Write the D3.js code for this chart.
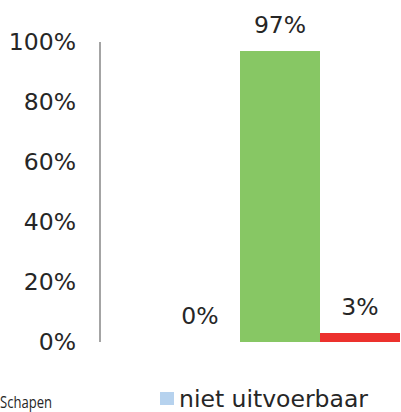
<!DOCTYPE html>
<html>
<head>
<meta charset="utf-8">
<script src="https://cdn.jsdelivr.net/npm/d3@7"></script>
<style>
  body { margin: 0; background: #fff; }
  svg { display: block; }
  text { font-family: "DejaVu Sans", Verdana, sans-serif; fill: #262626; }
</style>
</head>
<body>
<div id="chart"></div>
<script>
// Waarden
const series = ['niet uitvoerbaar', 'uitvoerbaar', 'anders'];
const values = [0, 97, 3];
const colors = ['#b6d2ee', '#87c764', '#ec312d'];
const yTicks = [0, 20, 40, 60, 80, 100];
const legendItems = ['niet uitvoerbaar'];
const groupLabel = 'Schapen';

const W = 401, H = 412;
const svg = d3.select('#chart').append('svg')
  .attr('width', W).attr('height', H);

const y = d3.scaleLinear().domain([0, 100]).range([342, 42]);
const x = d3.scaleBand().domain(series).range([160, 400]).padding(0);

// Y-as labels
svg.append('g')
  .selectAll('text')
  .data(yTicks)
  .enter().append('text')
  .attr('x', 76)
  .attr('y', d => y(d))
  .attr('dy', '0.36em')
  .attr('text-anchor', 'end')
  .style('font-size', '23.5px')
  .text(d => d + '%');

// Aslijn
svg.append('line')
  .attr('x1', 100).attr('x2', 100)
  .attr('y1', y(100)).attr('y2', y(0))
  .attr('stroke', '#868686')
  .attr('stroke-width', 1.5);

// Staven
svg.selectAll('.bar')
  .data(values)
  .enter().append('rect')
  .attr('class', 'bar')
  .attr('x', (d, i) => x(series[i]))
  .attr('width', x.bandwidth())
  .attr('y', d => y(d))
  .attr('height', d => y(0) - y(d))
  .attr('fill', (d, i) => colors[i]);

// Waardelabels
svg.selectAll('.val')
  .data(values)
  .enter().append('text')
  .attr('class', 'val')
  .attr('x', (d, i) => x(series[i]) + x.bandwidth() / 2)
  .attr('y', d => y(d) - 18)
  .attr('text-anchor', 'middle')
  .style('font-size', '23.5px')
  .text(d => d + '%');

// Legenda
const leg = svg.append('g').attr('transform', 'translate(160,392)');
legendItems.forEach((name, i) => {
  leg.append('rect')
    .attr('x', 0).attr('y', 0)
    .attr('width', 14).attr('height', 13)
    .attr('fill', colors[series.indexOf(name)]);
  leg.append('text')
    .attr('x', 19).attr('y', 15)
    .style('font-size', '23.5px')
    .text(name);
});

// Categorie-label (onderaan links)
svg.append('text')
  .attr('x', 0).attr('y', 408)
  .attr('textLength', 52)
  .attr('lengthAdjust', 'spacingAndGlyphs')
  .style('font-family', '"Liberation Sans Narrow", "Open Sans", sans-serif')
  .style('font-size', '16px')
  .text(groupLabel);
</script>
</body>
</html>
